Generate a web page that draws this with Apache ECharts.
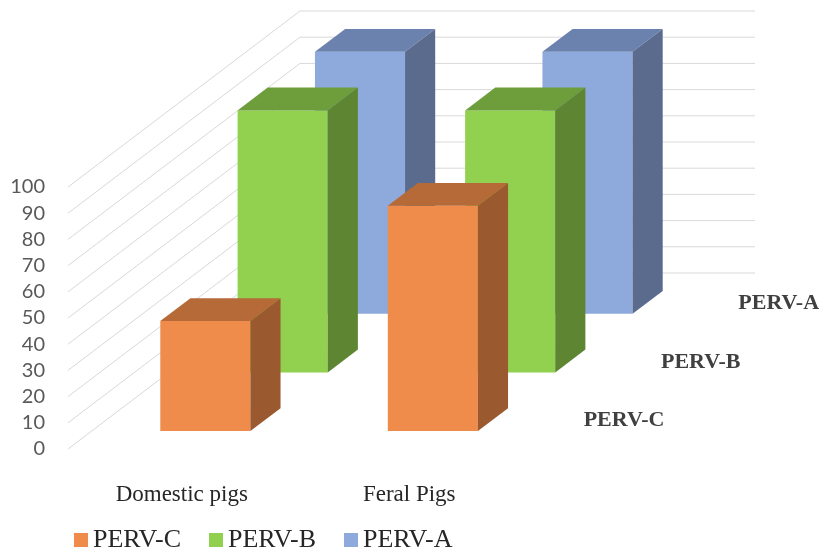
<!DOCTYPE html>
<html>
<head>
<meta charset="utf-8">
<script src="https://cdn.jsdelivr.net/npm/echarts@6/dist/echarts.min.js"></script>
<style>
  html, body { margin: 0; padding: 0; background: #ffffff; }
  #chart { width: 823px; height: 555px; }
</style>
</head>
<body>
<div id="chart"></div>
<script>
// ---- data ----
const categories = ['Domestic pigs', 'Feral Pigs'];
const seriesNames = ['PERV-C', 'PERV-B', 'PERV-A'];   // front row to back row
const pervC = [42, 86];
const pervB = [100, 100];
const pervA = [100, 100];
const yTicks = [0, 10, 20, 30, 40, 50, 60, 70, 80, 90, 100];

// face colours: front, top, side
const faceColors = {
  'PERV-C': ['#EF8C4B', '#B56A37', '#9A592E'],
  'PERV-B': ['#92D050', '#6E9E3B', '#5E8531'],
  'PERV-A': ['#8EA9DB', '#6C82AE', '#5B6B8E']
};

// oblique projection of the depth axis: full depth shifts by (DEPTH_DX, DEPTH_DY)
const DEPTH_DX = 232;
const DEPTH_DY = -176;
const ROWS = seriesNames.length;
const BAR_DEPTH = 0.13;   // share of full depth taken by one bar
const BAR_WIDTH = 0.396;  // share of a category band taken by one bar

function barRenderer(row, colors) {
  return function (params, api) {
    const cat = api.value(0);
    const val = api.value(1);
    const base = api.coord([cat, 0]);
    const top = api.coord([cat, val]);
    const w = api.size([1, 0])[0] * BAR_WIDTH;
    const tc = (row + 0.5) / ROWS;
    const t0 = tc - BAR_DEPTH / 2;
    const ddx = BAR_DEPTH * DEPTH_DX;
    const ddy = BAR_DEPTH * DEPTH_DY;
    const x = base[0] - w / 2 + t0 * DEPTH_DX;
    const yb = base[1] + t0 * DEPTH_DY;
    const yt = top[1] + t0 * DEPTH_DY;
    return {
      type: 'group',
      children: [
        { type: 'polygon', shape: { points: [[x, yt], [x + w, yt], [x + w, yb], [x, yb]] },
          style: { fill: colors[0] } },
        { type: 'polygon', shape: { points: [[x, yt], [x + ddx, yt + ddy], [x + w + ddx, yt + ddy], [x + w, yt]] },
          style: { fill: colors[1] } },
        { type: 'polygon', shape: { points: [[x + w, yt], [x + w + ddx, yt + ddy], [x + w + ddx, yb + ddy], [x + w, yb]] },
          style: { fill: colors[2] } }
      ]
    };
  };
}

// side wall + back wall gridlines for every value tick
function wallRenderer(params, api) {
  const cs = params.coordSys;
  const y = api.coord([0, api.value(1)])[1];
  const x0 = cs.x;
  return {
    type: 'polyline',
    shape: { points: [[x0, y], [x0 + DEPTH_DX, y + DEPTH_DY], [x0 + DEPTH_DX + cs.width, y + DEPTH_DY]] },
    style: { stroke: '#D9D9D9', lineWidth: 1, fill: null }
  };
}

// series names along the depth axis, at the right edge of the floor
function depthLabelRenderer(params, api) {
  const cs = params.coordSys;
  const row = params.dataIndex;
  const floorY = api.coord([0, 0])[1];
  const t = (row + 0.5) / ROWS;
  return {
    type: 'text',
    x: cs.x + cs.width + t * DEPTH_DX + 22,
    y: floorY + t * DEPTH_DY + 1,
    style: {
      text: seriesNames[row],
      fill: '#404040',
      font: 'bold 22px "Liberation Serif", "Times New Roman", serif',
      textAlign: 'left',
      textVerticalAlign: 'middle'
    }
  };
}

const rowValues = { 'PERV-C': pervC, 'PERV-B': pervB, 'PERV-A': pervA };

const series = [
  {
    type: 'custom',
    name: 'walls',
    silent: true,
    renderItem: wallRenderer,
    data: yTicks.map(v => [0, v]),
    z: 1
  }
];
// back row first so nearer rows paint over it
for (let r = ROWS - 1; r >= 0; r--) {
  const name = seriesNames[r];
  series.push({
    type: 'custom',
    name: name,
    renderItem: barRenderer(r, faceColors[name]),
    itemStyle: { color: faceColors[name][0] },
    data: rowValues[name].map((v, i) => [i, v]),
    z: 2
  });
}
series.push({
  type: 'custom',
  name: 'depthAxis',
  silent: true,
  renderItem: depthLabelRenderer,
  data: seriesNames.map(() => [0, 0]),
  z: 3
});

const chart = echarts.init(document.getElementById('chart'), null, { renderer: 'canvas' });
chart.setOption({
  animation: false,
  backgroundColor: '#ffffff',
  grid: { left: 68, top: 187, width: 455, height: 262 },
  xAxis: {
    type: 'category',
    data: categories,
    axisLine: { show: false },
    axisTick: { show: false },
    axisLabel: {
      margin: 34,
      color: '#262626',
      fontFamily: '"Liberation Serif", "Times New Roman", serif',
      fontSize: 23
    }
  },
  yAxis: {
    type: 'value',
    min: 0,
    max: 100,
    interval: 10,
    axisLine: { show: false },
    axisTick: { show: false },
    splitLine: { show: false },
    axisLabel: {
      margin: 23,
      color: '#595959',
      fontFamily: 'Lato, "Liberation Sans", sans-serif',
      fontSize: 20
    }
  },
  legend: {
    data: seriesNames,
    left: 69,
    bottom: -3,
    icon: 'rect',
    itemWidth: 14,
    itemHeight: 14,
    itemGap: 28,
    textStyle: {
      color: '#262626',
      fontFamily: '"Liberation Serif", "Times New Roman", serif',
      fontSize: 26
    }
  },
  series: series
});
</script>
</body>
</html>
